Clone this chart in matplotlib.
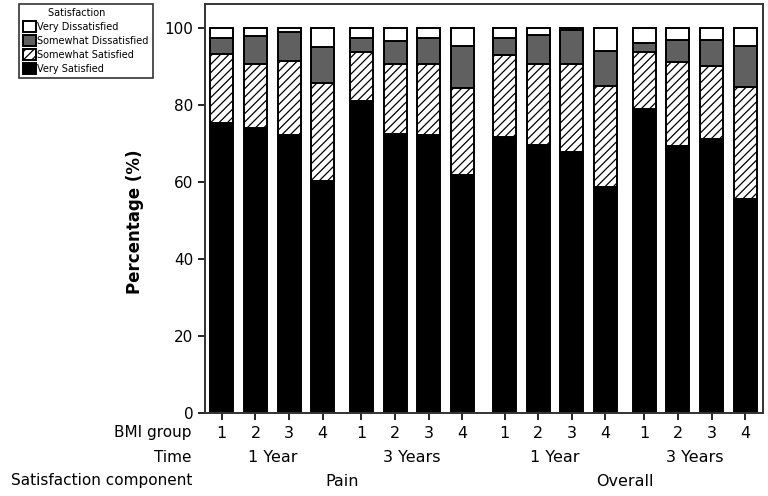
import matplotlib
matplotlib.use("Agg")
import matplotlib.pyplot as plt
import matplotlib.transforms as mtransforms
import numpy as np

plt.rcParams['hatch.color'] = '#404040'
plt.rcParams['hatch.linewidth'] = 0.9

# datos (porcentajes por barra)
bmi_groups = ['1', '2', '3', '4'] * 4
times = ['1 Year', '3 Years', '1 Year', '3 Years']
components = ['Pain', 'Overall']

very_satisfied = [75.4, 74.1, 72.2, 60.3, 80.9, 72.4, 72.2, 61.8,
                  71.6, 69.6, 67.9, 58.8, 79.0, 69.4, 71.1, 55.6]
somewhat_satisfied = [17.8, 16.6, 19.1, 25.3, 12.9, 18.3, 18.3, 22.6,
                      21.4, 20.9, 22.8, 26.2, 14.7, 21.7, 18.9, 29.0]
somewhat_dissatisfied = [4.3, 7.3, 7.5, 9.5, 3.7, 5.8, 6.8, 11.0,
                         4.3, 7.6, 8.7, 8.9, 2.5, 5.8, 6.9, 10.8]
very_dissatisfied = [2.5, 2.0, 1.2, 4.9, 2.5, 3.5, 2.7, 4.6,
                     2.7, 1.9, 0.6, 6.1, 3.8, 3.1, 3.1, 4.6]

# posiciones de las barras (grupos de 4 con espacio entre grupos)
group_offsets = [0, 4.15, 8.4, 12.55]
x = np.array([g + i for g in group_offsets for i in range(4)])

fig = plt.figure(figsize=(7.68, 4.96), dpi=100)
ax = fig.add_axes([205/768, 1 - 413/496, (763-205)/768, (413-4)/496])

vs = np.array(very_satisfied)
ss = np.array(somewhat_satisfied)
sd = np.array(somewhat_dissatisfied)
vd = np.array(very_dissatisfied)

w = 0.68
kw = dict(width=w, edgecolor='black', linewidth=1.4)
b1 = ax.bar(x, vs, color='black', **kw)
b2 = ax.bar(x, ss, bottom=vs, color='white', hatch='////', **kw)
b3 = ax.bar(x, sd, bottom=vs + ss, color='#606060', **kw)
b4 = ax.bar(x, vd, bottom=vs + ss + sd, color='white', **kw)

ax.set_xlim(x[0] - 0.5, x[-1] + 0.53)
ax.set_ylim(0, 106.2)
ax.set_yticks([0, 20, 40, 60, 80, 100])
ax.set_xticks(x)
ax.set_xticklabels([])
ax.tick_params(axis='y', labelsize=11, length=5, width=1.2, direction='out')
ax.tick_params(axis='x', length=5, width=1.2, direction='out')
for s in ax.spines.values():
    s.set_linewidth(1.4)
    s.set_color('#333333')

fig.text(135/768, 1 - 222/496, 'Percentage (%)', rotation=90, fontsize=12,
         fontweight='bold', ha='center', va='center')

# filas de etiquetas debajo del eje
row_y = [1 - 433/496, 1 - 457/496, 1 - 481/496]
row_names = ['BMI group', 'Time', 'Satisfaction component']
for yy, name in zip(row_y, row_names):
    fig.text(192/768, yy, name, ha='right', va='center', fontsize=11)

blend = mtransforms.blended_transform_factory(ax.transData, fig.transFigure)
for xi, lab in zip(x, bmi_groups):
    ax.text(xi, row_y[0], lab, transform=blend, ha='center', va='center', fontsize=11.5)
for i, t in enumerate(times):
    ax.text(x[4*i:4*i+4].mean(), row_y[1], t, transform=blend, ha='center', va='center', fontsize=11.5)
for i, c in enumerate(components):
    ax.text(x[8*i:8*i+8].mean(), row_y[2], c, transform=blend, ha='center', va='center', fontsize=11.5)

leg = fig.legend([b4, b3, b2, b1],
                 ['Very Dissatisfied', 'Somewhat Dissatisfied', 'Somewhat Satisfied', 'Very Satisfied'],
                 title='        Satisfaction', loc='upper left', bbox_to_anchor=(19/768, 1 - 4/496),
                 fontsize=7, title_fontsize=7, frameon=True, fancybox=False,
                 handlelength=1.3, handleheight=1.3, handletextpad=0.2,
                 labelspacing=0.35, borderpad=0.4, borderaxespad=0, alignment='left')
leg.get_frame().set_edgecolor('black')
leg.get_frame().set_linewidth(1.2)

fig.savefig('out.png', dpi=100)
